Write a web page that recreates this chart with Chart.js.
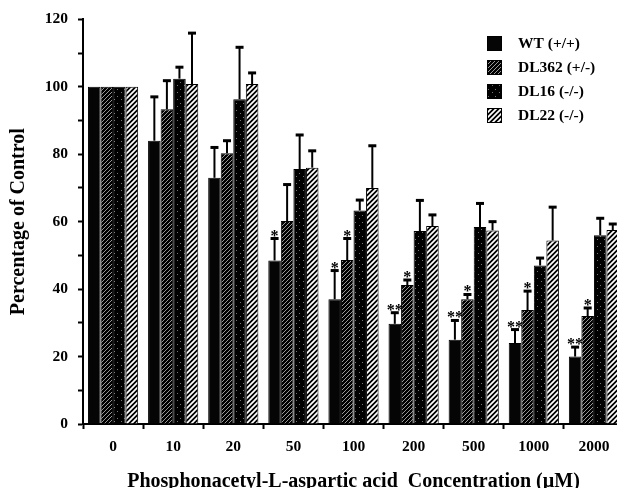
<!DOCTYPE html>
<html>
<head>
<meta charset="utf-8">
<script src="https://cdn.jsdelivr.net/npm/chart.js@4/dist/chart.umd.min.js"></script>
<style>
  html, body { margin: 0; padding: 0; background: #fff; }
  #wrap { width: 617px; height: 488px; overflow: hidden; position: relative; }
</style>
</head>
<body>
<div id="wrap"><canvas id="pala" width="626" height="488"></canvas></div>
<script>
const concentrations = ['0', '10', '20', '50', '100', '200', '500', '1000', '2000'];
const seriesNames = ['WT (+/+)', 'DL362 (+/-)', 'DL16 (-/-)', 'DL22 (-/-)'];

const wtValues    = [100, 84, 73, 48.5, 37, 29.7, 25, 24, 20];
const dl362Values = [100, 93.3, 80.3, 60.2, 48.6, 41.2, 37, 33.8, 32];
const dl16Values  = [100, 102.4, 96.3, 75.6, 63.3, 57.2, 58.4, 47, 56];
const dl22Values  = [100, 100.8, 100.8, 76, 70, 58.7, 57.4, 54.4, 57.5];

const wtErrors    = [0, 13, 9, 6.5, 8.5, 3.3, 5.7, 4, 2.8];
const dl362Errors = [0, 8.5, 3.7, 10.8, 6.4, 1.5, 1.4, 5.6, 2.4];
const dl16Errors  = [0, 3.4, 15.4, 10.1, 3.1, 9.1, 7, 2.2, 5];
const dl22Errors  = [0, 15.1, 3.3, 5, 12.5, 3.3, 2.6, 9.9, 1.8];

const wtStars    = ['', '', '', '*', '*', '**', '**', '**', '**'];
const dl362Stars = ['', '', '', '', '*', '*', '*', '*', '*'];

const yTicks = [0, 20, 40, 60, 80, 100, 120];

const serif = "'Liberation Serif', 'Times New Roman', serif";

// fill patterns for the bars
function makePattern(size, draw) {
    const c = document.createElement('canvas');
    c.width = size;
    c.height = size;
    const g = c.getContext('2d');
    draw(g, size);
    return document.createElement('canvas').getContext('2d').createPattern(c, 'repeat');
}

const solidFill = '#050505';
const fineHatch = makePattern(4, function(g, s) {
    g.fillStyle = '#000';
    g.fillRect(0, 0, s, s);
    g.strokeStyle = '#999';
    g.lineWidth = 1;
    g.beginPath();
    g.moveTo(-1, s + 1); g.lineTo(s + 1, -1);
    g.moveTo(-1, 1); g.lineTo(1, -1);
    g.moveTo(s - 1, s + 1); g.lineTo(s + 1, s - 1);
    g.stroke();
});
const dotFill = makePattern(7, function(g, s) {
    g.fillStyle = '#000';
    g.fillRect(0, 0, s, s);
    g.fillStyle = '#777';
    g.fillRect(2, 1, 1, 1);
    g.fillRect(5, 5, 1, 1);
});
const wideHatch = makePattern(5, function(g, s) {
    g.fillStyle = '#000';
    g.fillRect(0, 0, s, s);
    g.strokeStyle = '#fff';
    g.lineWidth = 1.7;
    g.beginPath();
    g.moveTo(-1, s + 1); g.lineTo(s + 1, -1);
    g.moveTo(-1, 1); g.lineTo(1, -1);
    g.moveTo(s - 1, s + 1); g.lineTo(s + 1, s - 1);
    g.stroke();
});

const fills = [solidFill, fineHatch, dotFill, wideHatch];
const values = [wtValues, dl362Values, dl16Values, dl22Values];
const errors = [wtErrors, dl362Errors, dl16Errors, dl22Errors];
const stars = [wtStars, dl362Stars, null, null];

const datasets = seriesNames.map(function(name, i) {
    return {
        label: name,
        data: values[i],
        errors: errors[i],
        stars: stars[i],
        backgroundColor: fills[i],
        borderColor: '#000',
        borderWidth: 1,
        borderSkipped: 'bottom',
        categoryPercentage: 0.835,
        barPercentage: 1.0
    };
});

// one-sided error bars with significance marks
const errorBars = {
    id: 'errorBars',
    afterDatasetsDraw(chart) {
        const ctx = chart.ctx;
        const y = chart.scales.y;
        ctx.save();
        ctx.strokeStyle = '#000';
        ctx.fillStyle = '#000';
        chart.data.datasets.forEach(function(ds, di) {
            const meta = chart.getDatasetMeta(di);
            meta.data.forEach(function(bar, i) {
                const err = ds.errors[i];
                let capY = bar.y;
                if (err > 0) {
                    capY = y.getPixelForValue(ds.data[i] + err);
                    ctx.lineWidth = 2;
                    ctx.beginPath();
                    ctx.moveTo(bar.x, bar.y);
                    ctx.lineTo(bar.x, capY);
                    ctx.stroke();
                    ctx.lineWidth = 3;
                    ctx.beginPath();
                    ctx.moveTo(bar.x - 4, capY);
                    ctx.lineTo(bar.x + 4, capY);
                    ctx.stroke();
                }
                if (ds.stars && ds.stars[i]) {
                    ctx.font = 'bold 16px ' + serif;
                    ctx.textAlign = 'center';
                    ctx.textBaseline = 'alphabetic';
                    ctx.fillText(ds.stars[i], bar.x, capY + 2);
                }
            });
        });
        ctx.restore();
    }
};

// legend placed inside the plot, top right
const insideLegend = {
    id: 'insideLegend',
    afterDraw(chart) {
        const ctx = chart.ctx;
        ctx.save();
        chart.data.datasets.forEach(function(ds, i) {
            const top = 36 + i * 24;
            ctx.fillStyle = ds.backgroundColor;
            ctx.fillRect(487, top, 15, 15);
            ctx.strokeStyle = '#000';
            ctx.lineWidth = 1;
            ctx.strokeRect(487.5, top + 0.5, 14, 14);
            ctx.fillStyle = '#000';
            ctx.font = 'bold 15.5px ' + serif;
            ctx.textAlign = 'left';
            ctx.textBaseline = 'middle';
            ctx.fillText(ds.label, 518, top + 8);
        });
        ctx.restore();
    }
};

const config = {
    type: 'bar',
    data: {
        labels: concentrations,
        datasets: datasets
    },
    plugins: [errorBars, insideLegend],
    options: {
        responsive: false,
        animation: false,
        devicePixelRatio: 1,
        layout: {
            padding: { top: 17, right: 2, left: 0, bottom: 0 }
        },
        scales: {
            x: {
                offset: true,
                grid: {
                    offset: true,
                    drawOnChartArea: false,
                    drawTicks: true,
                    tickLength: 5,
                    tickColor: '#000',
                    tickWidth: 2
                },
                border: { display: true, color: '#000', width: 2 },
                ticks: {
                    color: '#000',
                    padding: 9,
                    font: { family: serif, size: 15.5, weight: 'bold' }
                },
                title: {
                    display: true,
                    text: 'Phosphonacetyl-L-aspartic acid  Concentration (\u00b5M)',
                    color: '#000',
                    font: { family: serif, size: 20, weight: 'bold', lineHeight: 1 },
                    padding: { top: 0, bottom: -4 }
                },
                afterFit: function(scale) { scale.height = 64; }
            },
            y: {
                min: 0,
                max: 120,
                grid: {
                    drawOnChartArea: false,
                    drawTicks: true,
                    tickLength: 5,
                    tickColor: '#000',
                    tickWidth: 2
                },
                border: { display: true, color: '#000', width: 2 },
                ticks: {
                    stepSize: 10,
                    color: '#000',
                    padding: 10,
                    font: { family: serif, size: 15.5, weight: 'bold' },
                    callback: function(v) { return yTicks.includes(v) ? v : ''; }
                },
                title: {
                    display: true,
                    text: 'Percentage of Control',
                    color: '#000',
                    font: { family: serif, size: 20, weight: 'bold', lineHeight: 1.2 },
                    padding: { top: 7, bottom: 0 }
                },
                afterFit: function(scale) { scale.width = 83; }
            }
        },
        plugins: {
            legend: { display: false },
            tooltip: { enabled: false }
        }
    }
};

new Chart(document.getElementById('pala').getContext('2d'), config);
</script>
</body>
</html>
